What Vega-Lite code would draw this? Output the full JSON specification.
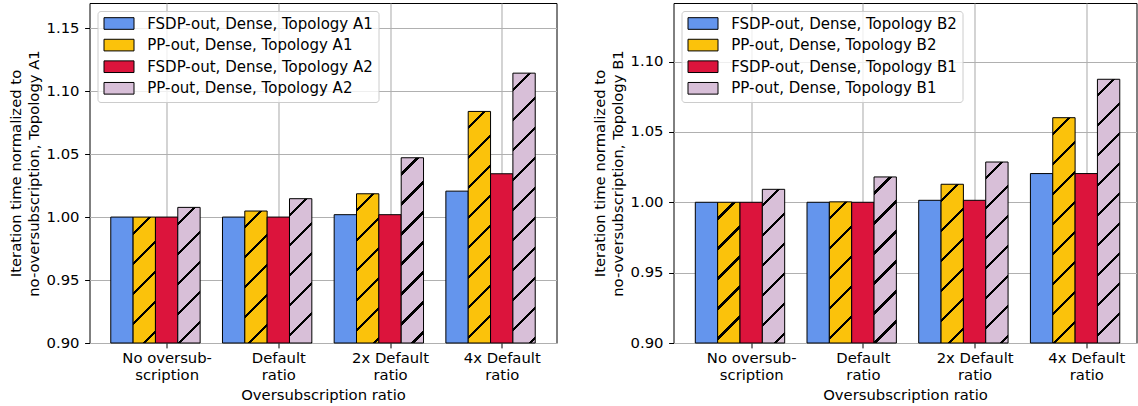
{
  "$schema": "https://vega.github.io/schema/vega-lite/v6.json",
  "padding": {"left": 7.5, "top": 2, "right": 0, "bottom": 0},
  "spacing": 34,
  "background": "white",
  "params": [
    {"name": "hs", "value": [
      {"offset": 0, "color": "rgba(0,0,0,0)"},
      {"offset": 0.04167, "color": "rgba(0,0,0,0)"}, {"offset": 0.04167, "color": "black"}, {"offset": 0.05042, "color": "black"}, {"offset": 0.05042, "color": "rgba(0,0,0,0)"},
      {"offset": 0.125, "color": "rgba(0,0,0,0)"}, {"offset": 0.125, "color": "black"}, {"offset": 0.13375, "color": "black"}, {"offset": 0.13375, "color": "rgba(0,0,0,0)"},
      {"offset": 0.20833, "color": "rgba(0,0,0,0)"}, {"offset": 0.20833, "color": "black"}, {"offset": 0.21708, "color": "black"}, {"offset": 0.21708, "color": "rgba(0,0,0,0)"},
      {"offset": 0.29167, "color": "rgba(0,0,0,0)"}, {"offset": 0.29167, "color": "black"}, {"offset": 0.30042, "color": "black"}, {"offset": 0.30042, "color": "rgba(0,0,0,0)"},
      {"offset": 0.375, "color": "rgba(0,0,0,0)"}, {"offset": 0.375, "color": "black"}, {"offset": 0.38375, "color": "black"}, {"offset": 0.38375, "color": "rgba(0,0,0,0)"},
      {"offset": 0.45833, "color": "rgba(0,0,0,0)"}, {"offset": 0.45833, "color": "black"}, {"offset": 0.46708, "color": "black"}, {"offset": 0.46708, "color": "rgba(0,0,0,0)"},
      {"offset": 0.54167, "color": "rgba(0,0,0,0)"}, {"offset": 0.54167, "color": "black"}, {"offset": 0.55042, "color": "black"}, {"offset": 0.55042, "color": "rgba(0,0,0,0)"},
      {"offset": 0.625, "color": "rgba(0,0,0,0)"}, {"offset": 0.625, "color": "black"}, {"offset": 0.63375, "color": "black"}, {"offset": 0.63375, "color": "rgba(0,0,0,0)"},
      {"offset": 0.70833, "color": "rgba(0,0,0,0)"}, {"offset": 0.70833, "color": "black"}, {"offset": 0.71708, "color": "black"}, {"offset": 0.71708, "color": "rgba(0,0,0,0)"},
      {"offset": 0.79167, "color": "rgba(0,0,0,0)"}, {"offset": 0.79167, "color": "black"}, {"offset": 0.80042, "color": "black"}, {"offset": 0.80042, "color": "rgba(0,0,0,0)"},
      {"offset": 0.875, "color": "rgba(0,0,0,0)"}, {"offset": 0.875, "color": "black"}, {"offset": 0.88375, "color": "black"}, {"offset": 0.88375, "color": "rgba(0,0,0,0)"},
      {"offset": 0.95833, "color": "rgba(0,0,0,0)"}, {"offset": 0.95833, "color": "black"}, {"offset": 0.96708, "color": "black"}, {"offset": 0.96708, "color": "rgba(0,0,0,0)"},
      {"offset": 1, "color": "rgba(0,0,0,0)"}
    ]}
  ],
  "datasets": {
    "A": [
      {"ratio": "No oversubscription", "series": "FSDP-out, Dense, Topology A1", "value": 1.0},
      {"ratio": "No oversubscription", "series": "PP-out, Dense, Topology A1", "value": 1.0},
      {"ratio": "No oversubscription", "series": "FSDP-out, Dense, Topology A2", "value": 1.0},
      {"ratio": "No oversubscription", "series": "PP-out, Dense, Topology A2", "value": 1.0077},
      {"ratio": "Default ratio", "series": "FSDP-out, Dense, Topology A1", "value": 1.0},
      {"ratio": "Default ratio", "series": "PP-out, Dense, Topology A1", "value": 1.0048},
      {"ratio": "Default ratio", "series": "FSDP-out, Dense, Topology A2", "value": 1.0},
      {"ratio": "Default ratio", "series": "PP-out, Dense, Topology A2", "value": 1.0146},
      {"ratio": "2x Default ratio", "series": "FSDP-out, Dense, Topology A1", "value": 1.0019},
      {"ratio": "2x Default ratio", "series": "PP-out, Dense, Topology A1", "value": 1.0185},
      {"ratio": "2x Default ratio", "series": "FSDP-out, Dense, Topology A2", "value": 1.0019},
      {"ratio": "2x Default ratio", "series": "PP-out, Dense, Topology A2", "value": 1.0471},
      {"ratio": "4x Default ratio", "series": "FSDP-out, Dense, Topology A1", "value": 1.0206},
      {"ratio": "4x Default ratio", "series": "PP-out, Dense, Topology A1", "value": 1.0839},
      {"ratio": "4x Default ratio", "series": "FSDP-out, Dense, Topology A2", "value": 1.0344},
      {"ratio": "4x Default ratio", "series": "PP-out, Dense, Topology A2", "value": 1.1143}
    ],
    "B": [
      {"ratio": "No oversubscription", "series": "FSDP-out, Dense, Topology B2", "value": 1.0},
      {"ratio": "No oversubscription", "series": "PP-out, Dense, Topology B2", "value": 1.0},
      {"ratio": "No oversubscription", "series": "FSDP-out, Dense, Topology B1", "value": 1.0},
      {"ratio": "No oversubscription", "series": "PP-out, Dense, Topology B1", "value": 1.0092},
      {"ratio": "Default ratio", "series": "FSDP-out, Dense, Topology B2", "value": 1.0},
      {"ratio": "Default ratio", "series": "PP-out, Dense, Topology B2", "value": 1.0003},
      {"ratio": "Default ratio", "series": "FSDP-out, Dense, Topology B1", "value": 1.0},
      {"ratio": "Default ratio", "series": "PP-out, Dense, Topology B1", "value": 1.018},
      {"ratio": "2x Default ratio", "series": "FSDP-out, Dense, Topology B2", "value": 1.0014},
      {"ratio": "2x Default ratio", "series": "PP-out, Dense, Topology B2", "value": 1.0128},
      {"ratio": "2x Default ratio", "series": "FSDP-out, Dense, Topology B1", "value": 1.0014},
      {"ratio": "2x Default ratio", "series": "PP-out, Dense, Topology B1", "value": 1.0286},
      {"ratio": "4x Default ratio", "series": "FSDP-out, Dense, Topology B2", "value": 1.0204},
      {"ratio": "4x Default ratio", "series": "PP-out, Dense, Topology B2", "value": 1.0601},
      {"ratio": "4x Default ratio", "series": "FSDP-out, Dense, Topology B1", "value": 1.0204},
      {"ratio": "4x Default ratio", "series": "PP-out, Dense, Topology B1", "value": 1.0874}
    ]
  },
  "config": {
    "font": "DejaVu Sans",
    "view": {"stroke": "black", "strokeWidth": 1},
    "style": {
      "guide-label": {"font": "DejaVu Sans", "fontSize": 14.8, "fill": "black"},
      "guide-title": {"font": "DejaVu Sans", "fontSize": 14.8, "fill": "black", "fontWeight": "normal"}
    },
    "axis": {
      "labelFont": "DejaVu Sans", "titleFont": "DejaVu Sans",
      "labelFontSize": 14.8, "titleFontSize": 14.8,
      "labelColor": "black", "titleColor": "black", "titleFontWeight": "normal",
      "tickColor": "black", "tickSize": 4.9, "tickWidth": 1,
      "domain": false, "grid": true, "gridColor": "#b0b0b0", "gridWidth": 1.1,
      "zindex": 1
    },
    "legend": {
      "orient": "top-left", "offset": 7.5,
      "fillColor": "rgba(255,255,255,0.8)", "strokeColor": "#cccccc", "cornerRadius": 3,
      "padding": 5,
      "symbolType": "M-1,-0.97H4V0.97H-1Z", "symbolSize": 144,
      "symbolStrokeColor": "black", "symbolStrokeWidth": 1,
      "labelFont": "DejaVu Sans", "labelFontSize": 15, "labelColor": "black",
      "labelLimit": 400, "labelOffset": 29.7, "rowPadding": 4.6
    }
  },
  "hconcat": [
    {
      "width": 467, "height": 340,
      "data": {"name": "A"},
      "encoding": {
        "x": {
          "field": "ratio", "type": "nominal",
          "sort": ["No oversubscription", "Default ratio", "2x Default ratio", "4x Default ratio"],
          "scale": {"paddingInner": 0.2, "paddingOuter": 0.1904, "align": 0.5},
          "title": "Oversubscription ratio",
          "axis": {"labelAngle": 0, "tickOffset": 11.2, "labelPadding": 3, "labelLineHeight": 17, "titlePadding": 5,
                   "labelFontSize": 14.8, "titleFontSize": 14.8, "labelFont": "DejaVu Sans", "titleFont": "DejaVu Sans",
                   "labelExpr": "datum.value === 'No oversubscription' ? ['No oversub-', 'scription'] : [replace(datum.value, ' ratio', ''), 'ratio']"}
        },
        "xOffset": {
          "field": "series", "type": "nominal",
          "sort": ["FSDP-out, Dense, Topology A1", "PP-out, Dense, Topology A1", "FSDP-out, Dense, Topology A2", "PP-out, Dense, Topology A2"],
          "scale": {"paddingInner": 0, "paddingOuter": 0}
        },
        "y": {
          "field": "value", "type": "quantitative",
          "scale": {"domain": [0.9, 1.17], "zero": false, "nice": false},
          "title": ["Iteration time normalized to", "no-oversubscription, Topology A1"],
          "axis": {"values": [0.9, 0.95, 1.0, 1.05, 1.1, 1.15], "format": ".2f", "labelPadding": 5.6, "titlePadding": 5, "titleLineHeight": 17.8,
                   "labelFontSize": 14.8, "titleFontSize": 14.8, "labelFont": "DejaVu Sans", "titleFont": "DejaVu Sans"}
        },
        "y2": {"datum": 0.9}
      },
      "layer": [
        {
          "mark": {"type": "bar", "stroke": "black", "strokeWidth": 1},
          "encoding": {
            "color": {
              "field": "series", "type": "nominal",
              "scale": {"domain": ["FSDP-out, Dense, Topology A1", "PP-out, Dense, Topology A1", "FSDP-out, Dense, Topology A2", "PP-out, Dense, Topology A2"],
                        "range": ["#6495ED", "#FBC20B", "#DC143C", "#D8BFD8"]},
              "legend": {"title": null}
            }
          }
        },
        {
          "mark": {"type": "bar", "strokeWidth": 0},
          "encoding": {
            "fill": {"value": {"expr": "indexof(datum.series,'PP')===0 ? {gradient:'linear',x1:0,y1:0,x2:360*22.34/(499.1+pow((datum.value-0.9)*1259.3,2)),y2:360*(datum.value-0.9)*1259.3/(499.1+pow((datum.value-0.9)*1259.3,2)),stops:hs} : 'rgba(0,0,0,0)'"}}
          }
        }
      ]
    },
    {
      "width": 463, "height": 340,
      "data": {"name": "B"},
      "encoding": {
        "x": {
          "field": "ratio", "type": "nominal",
          "sort": ["No oversubscription", "Default ratio", "2x Default ratio", "4x Default ratio"],
          "scale": {"paddingInner": 0.2, "paddingOuter": 0.1725, "align": 0.566},
          "title": "Oversubscription ratio",
          "axis": {"labelAngle": 0, "tickOffset": 11.2, "labelPadding": 3, "labelLineHeight": 17, "titlePadding": 5,
                   "labelFontSize": 14.8, "titleFontSize": 14.8, "labelFont": "DejaVu Sans", "titleFont": "DejaVu Sans",
                   "labelExpr": "datum.value === 'No oversubscription' ? ['No oversub-', 'scription'] : [replace(datum.value, ' ratio', ''), 'ratio']"}
        },
        "xOffset": {
          "field": "series", "type": "nominal",
          "sort": ["FSDP-out, Dense, Topology B2", "PP-out, Dense, Topology B2", "FSDP-out, Dense, Topology B1", "PP-out, Dense, Topology B1"],
          "scale": {"paddingInner": 0, "paddingOuter": 0}
        },
        "y": {
          "field": "value", "type": "quantitative",
          "scale": {"domain": [0.9, 1.1416], "zero": false, "nice": false},
          "title": ["Iteration time normalized to", "no-oversubscription, Topology B1"],
          "axis": {"values": [0.9, 0.95, 1.0, 1.05, 1.1], "format": ".2f", "labelPadding": 5.6, "titlePadding": 5, "titleLineHeight": 17.8,
                   "labelFontSize": 14.8, "titleFontSize": 14.8, "labelFont": "DejaVu Sans", "titleFont": "DejaVu Sans"}
        },
        "y2": {"datum": 0.9}
      },
      "layer": [
        {
          "mark": {"type": "bar", "stroke": "black", "strokeWidth": 1},
          "encoding": {
            "color": {
              "field": "series", "type": "nominal",
              "scale": {"domain": ["FSDP-out, Dense, Topology B2", "PP-out, Dense, Topology B2", "FSDP-out, Dense, Topology B1", "PP-out, Dense, Topology B1"],
                        "range": ["#6495ED", "#FBC20B", "#DC143C", "#D8BFD8"]},
              "legend": {"title": null}
            }
          }
        },
        {
          "mark": {"type": "bar", "strokeWidth": 0},
          "encoding": {
            "fill": {"value": {"expr": "indexof(datum.series,'PP')===0 ? {gradient:'linear',x1:0,y1:0,x2:360*22.34/(499.1+pow((datum.value-0.9)*1407.3,2)),y2:360*(datum.value-0.9)*1407.3/(499.1+pow((datum.value-0.9)*1407.3,2)),stops:hs} : 'rgba(0,0,0,0)'"}}
          }
        }
      ]
    }
  ],
  "resolve": {"scale": {"color": "independent", "x": "independent", "y": "independent", "xOffset": "independent"}}
}
